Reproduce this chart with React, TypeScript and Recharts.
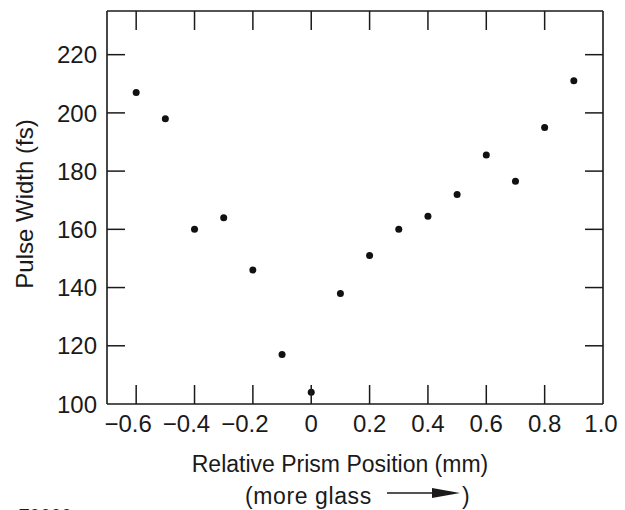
import React from 'react';
import { ScatterChart, Scatter, XAxis, YAxis, Label } from 'recharts';

const positions = [-0.6, -0.5, -0.4, -0.3, -0.2, -0.1, 0, 0.1, 0.2, 0.3, 0.4, 0.5, 0.6, 0.7, 0.8, 0.9];
const pulseWidths = [207, 198, 160, 164, 146, 117, 104, 138, 151, 160, 164.5, 172, 185.5, 176.5, 195, 211];
const xTicks = [-0.6, -0.4, -0.2, 0, 0.2, 0.4, 0.6, 0.8, 1.0];
const yTicks = [100, 120, 140, 160, 180, 200, 220];
const xTitle = 'Relative Prism Position (mm)';
const xSubtitle = '(more glass';
const yTitle = 'Pulse Width (fs)';
const figId = 'F0000';

const data = positions.map((x, i) => ({ x, y: pulseWidths[i] }));

const FONT = '"Liberation Sans", Arial, Helvetica, sans-serif';
const INK = '#1a1a1a';
const TICK_FS = 24;
const TITLE_FS = 23;
const TICK_LEN = 19;

const fmtX = (v: number) => (v === 0 ? '0' : v < 0 ? `\u2212${Math.abs(v).toFixed(1)}` : v.toFixed(1));

const BottomTick = (props: any) => {
  const { x, y, payload } = props;
  const v = payload.value as number;
  const tx = v < 0 ? x - 8 : v >= 1 ? x - 2 : x;
  return (
    <g>
      {v < 1 && <line x1={x} x2={x} y1={y} y2={y - TICK_LEN} stroke={INK} strokeWidth={1.5} />}
      <text x={tx} y={y + 11} dy="0.71em" textAnchor="middle" fontFamily={FONT} fontSize={TICK_FS} fill={INK}>
        {fmtX(v)}
      </text>
    </g>
  );
};

const TopTick = (props: any) => {
  const { x, y, payload } = props;
  const v = payload.value as number;
  if (v >= 1) return <g />;
  return <line x1={x} x2={x} y1={y} y2={y + TICK_LEN} stroke={INK} strokeWidth={1.5} />;
};

const LeftTick = (props: any) => {
  const { x, y, payload } = props;
  const v = payload.value as number;
  return (
    <g>
      {v > 100 && <line x1={x} x2={x + 18} y1={y} y2={y} stroke={INK} strokeWidth={1.5} />}
      <text x={x - 10} y={y} dy="0.36em" textAnchor="end" fontFamily={FONT} fontSize={TICK_FS} fill={INK}>
        {v}
      </text>
    </g>
  );
};

const RightTick = (props: any) => {
  const { x, y, payload } = props;
  const v = payload.value as number;
  if (v <= 100) return <g />;
  return <line x1={x} x2={x - 18} y1={y} y2={y} stroke={INK} strokeWidth={1.5} />;
};

const XTitle = (props: any) => {
  const vb = props.viewBox || { x: 107, y: 404, width: 496 };
  const cx = vb.x + vb.width / 2 - 15;
  const y1 = vb.y + 68;
  const y2 = vb.y + 100;
  const arrowY = y2 - 11;
  return (
    <g>
      <text x={cx} y={y1} textAnchor="middle" fontFamily={FONT} fontSize={TITLE_FS} fill={INK}>
        {xTitle}
      </text>
      <text x={cx - 95} y={y2} textAnchor="start" fontFamily={FONT} fontSize={TITLE_FS} letterSpacing={0.6} fill={INK}>
        {xSubtitle}
      </text>
      <line x1={cx + 47} x2={cx + 95} y1={arrowY} y2={arrowY} stroke={INK} strokeWidth={1.3} />
      <polygon points={`${cx + 92},${arrowY - 5} ${cx + 120},${arrowY} ${cx + 92},${arrowY + 5}`} fill={INK} />
      <text x={cx + 122} y={y2} textAnchor="start" fontFamily={FONT} fontSize={TITLE_FS} fill={INK}>
        )
      </text>
      <text x={18} y={vb.y + 118} textAnchor="start" fontFamily={FONT} fontSize={19} fill={INK}>
        {figId}
      </text>
    </g>
  );
};

const YTitle = () => {
  const cx = 33;
  const cy = 204;
  return (
    <text x={cx} y={cy} textAnchor="middle" fontFamily={FONT} fontSize={TITLE_FS + 1} fill={INK} transform={`rotate(-90, ${cx}, ${cy})`}>
      {yTitle}
    </text>
  );
};

const Dot = (props: any) => <circle cx={props.cx} cy={props.cy} r={3.5} fill="#111" />;
const NoDot = () => <g />;

export default function App() {
  return (
    <div style={{ margin: '-8px 0 0 -8px', width: 625, height: 510, background: '#fff' }}>
      <ScatterChart width={625} height={510} margin={{ top: 10, right: 21, bottom: 0, left: 0 }}>
        <XAxis
          xAxisId="bottom"
          dataKey="x"
          type="number"
          orientation="bottom"
          domain={[-0.7, 1.0]}
          allowDataOverflow
          ticks={xTicks}
          interval={0}
          height={106}
          tickSize={0}
          tickMargin={0}
          tickLine={false}
          axisLine={{ stroke: INK, strokeWidth: 1.6 }}
          tick={<BottomTick />}
        >
          <Label content={<XTitle />} />
        </XAxis>
        <XAxis
          xAxisId="top"
          dataKey="x"
          type="number"
          orientation="top"
          domain={[-0.7, 1.0]}
          allowDataOverflow
          ticks={xTicks}
          interval={0}
          height={1}
          tickSize={0}
          tickMargin={0}
          tickLine={false}
          axisLine={{ stroke: INK, strokeWidth: 1.6 }}
          tick={<TopTick />}
        />
        <YAxis
          yAxisId="left"
          dataKey="y"
          type="number"
          orientation="left"
          domain={[100, 235]}
          allowDataOverflow
          ticks={yTicks}
          interval={0}
          width={107}
          tickSize={0}
          tickMargin={0}
          tickLine={false}
          axisLine={{ stroke: INK, strokeWidth: 1.6 }}
          tick={<LeftTick />}
        >
          <Label content={<YTitle />} />
        </YAxis>
        <YAxis
          yAxisId="right"
          dataKey="y"
          type="number"
          orientation="right"
          domain={[100, 235]}
          allowDataOverflow
          ticks={yTicks}
          interval={0}
          width={1}
          tickSize={0}
          tickMargin={0}
          tickLine={false}
          axisLine={{ stroke: INK, strokeWidth: 1.6 }}
          tick={<RightTick />}
        />
        <Scatter data={data} xAxisId="bottom" yAxisId="left" shape={<Dot />} isAnimationActive={false} />
        <Scatter data={data} xAxisId="top" yAxisId="right" shape={<NoDot />} isAnimationActive={false} legendType="none" />
      </ScatterChart>
    </div>
  );
}
